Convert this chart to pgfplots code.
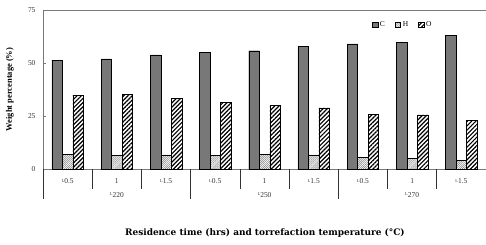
\documentclass[border=0pt]{standalone}
\usepackage{pgfplots}
\pgfplotsset{compat=1.18}
\usepackage{fontspec}
\setmainfont{Liberation Serif}
\newfontfamily\xlfont{DejaVu Serif}
\usetikzlibrary{patterns.meta,calc}
\definecolor{cgray}{RGB}{120,120,120}
\definecolor{axgray}{RGB}{120,120,120}
\newcommand\lm{\raisebox{0.5ex}{\fontsize{4.5}{5}\selectfont L}}
\begin{document}
\begin{tikzpicture}
\begin{axis}[
  scale only axis, width=443bp, height=159bp,
  ymin=0, ymax=75, xmin=-0.5, xmax=8.5,
  ytick={0,25,50,75},
  xtick={0,...,8},
  xticklabels={\lm0.5,1,\lm1.5,\lm0.5,1,\lm1.5,\lm0.5,1,\lm1.5},
  ybar=0pt, bar width=10.5bp,
  axis x line*=bottom, axis y line*=left,
  axis line style={-, draw=axgray, line width=0.9pt},
  major tick length=3bp,
  xtick style={draw=none},
  ytick style={draw=axgray, line width=0.6pt},
  tick label style={font=\fontsize{7.5}{8}\selectfont, text=black!80},
  /pgf/number format/assume math mode=true,
  xticklabel style={yshift=-3.5bp},
  yticklabel style={xshift=-4bp},
  ylabel={Weight percentage (\%)},
  ylabel style={font=\bfseries\fontsize{8.5}{10}\selectfont, at={(axis description cs:-0.075,0.5)}, anchor=center},
  xlabel={Residence time (hrs) and torrefaction temperature (°C)},
  xlabel style={font=\xlfont\bfseries\fontsize{9}{10}\selectfont, at={(axis description cs:0.501,-0.403)}, anchor=center},
  legend style={draw=none, fill=none, legend columns=3, at={(axis description cs:0.812,0.906)}, anchor=center,
    font=\fontsize{7.5}{8}\selectfont, /tikz/every even column/.append style={column sep=8bp},
    /tikz/every odd column/.append style={column sep=0bp}, inner sep=0pt},
  legend image code/.code={\draw[#1] (0bp,-2.5bp) rectangle (5.5bp,2.5bp);},
  clip=false,
]
\addplot[draw=black, line width=0.4pt, fill=cgray] coordinates {(0,51.4) (1,51.9) (2,53.8) (3,54.9) (4,55.8) (5,57.7) (6,59.0) (7,59.9) (8,62.9)};
\addplot[draw=black, line width=0.4pt, pattern={Lines[angle=45,distance=1.4bp,line width=0.5bp]}, pattern color=gray] coordinates {(0,6.9) (1,6.4) (2,6.6) (3,6.3) (4,6.9) (5,6.6) (6,5.4) (7,5.1) (8,4.1)};
\addplot[draw=black, line width=0.4pt, pattern={Lines[angle=45,distance=3bp,line width=1.2bp]}, pattern color=black] coordinates {(0,34.9) (1,35.2) (2,33.3) (3,31.6) (4,30.0) (5,28.8) (6,25.9) (7,25.5) (8,23.1)};
\legend{C,H,O}
% top border line
\draw[axgray, line width=0.9pt] (rel axis cs:0,1) -- (rel axis cs:1,1);
\coordinate (A) at (axis cs:-0.5,0);
\coordinate (B) at (axis cs:0.5,0);
% temperature labels
\node[font=\fontsize{7.5}{8}\selectfont, text=black!80] at ([yshift=-26bp]axis cs:1,0) {\lm220};
\node[font=\fontsize{7.5}{8}\selectfont, text=black!80] at ([yshift=-26bp]axis cs:4,0) {\lm250};
\node[font=\fontsize{7.5}{8}\selectfont, text=black!80] at ([yshift=-26bp]axis cs:7,0) {\lm270};
\end{axis}
% category separators (one category is the distance from A to B)
\draw[black!80, line width=0.6pt]
  ($(A)!1!(B)$) -- ++(0pt,-20bp)
  ($(A)!2!(B)$) -- ++(0pt,-20bp)
  ($(A)!4!(B)$) -- ++(0pt,-20bp)
  ($(A)!5!(B)$) -- ++(0pt,-20bp)
  ($(A)!7!(B)$) -- ++(0pt,-20bp)
  ($(A)!8!(B)$) -- ++(0pt,-20bp)
  ($(A)!0!(B)$) -- ++(0pt,-30bp)
  ($(A)!3!(B)$) -- ++(0pt,-30bp)
  ($(A)!6!(B)$) -- ++(0pt,-30bp);
\pgfresetboundingbox
\path ([shift={(-43bp,-76bp)}]current axis.south west) rectangle ([shift={(0bp,10bp)}]current axis.north east);
\end{tikzpicture}
\end{document}
